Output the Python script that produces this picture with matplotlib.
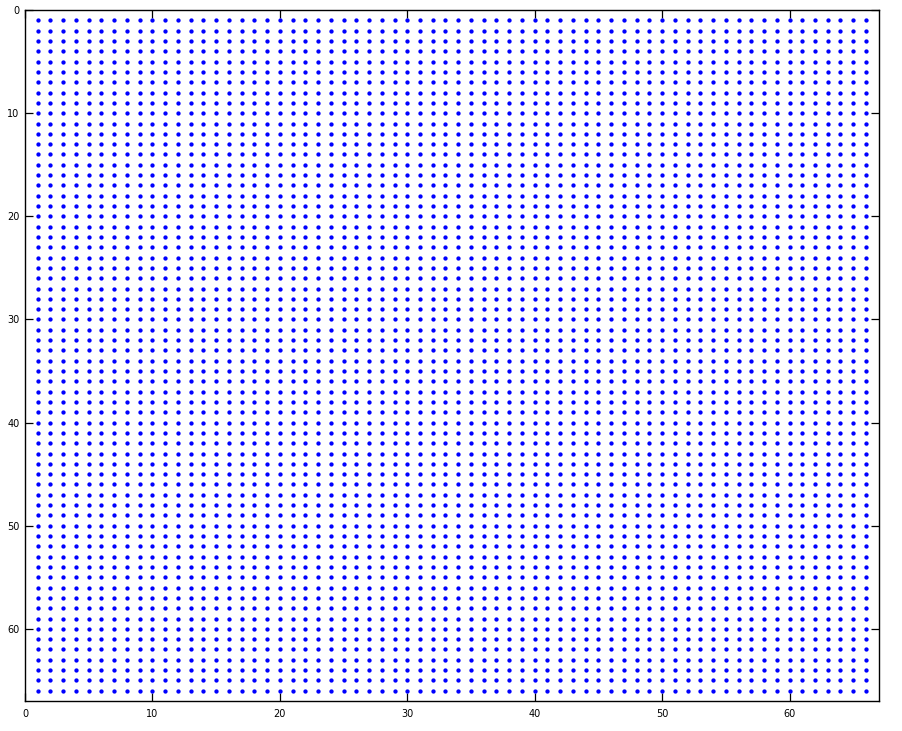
import numpy as np
import matplotlib
matplotlib.use('Agg')
import matplotlib.pyplot as plt

# grid of sample points (column and row indices)
cols = np.arange(1, 67)
rows = np.arange(1, 67)
x_ticks = [0, 10, 20, 30, 40, 50, 60]
y_ticks = [0, 10, 20, 30, 40, 50, 60]

X, Y = np.meshgrid(cols, rows)

fig = plt.figure(figsize=(9.03, 7.31), dpi=100)
ax = fig.add_axes([25 / 903, 30 / 731, 853.7 / 903, 690.9 / 731])

ax.plot(X.ravel(), Y.ravel(), linestyle='none', marker='o',
        markersize=3.1, markeredgewidth=0, color='#0000ff')

ax.set_xlim(0, 67)
ax.set_ylim(67, 0)
ax.set_xticks(x_ticks)
ax.set_yticks(y_ticks)
ax.tick_params(direction='in', length=5.5, width=0.9, labelsize=7,
               top=True, right=True, color='black')
ax.tick_params(axis='x', pad=6)
ax.tick_params(axis='y', pad=4)
for s in ax.spines.values():
    s.set_linewidth(1.0)

fig.savefig('out.png', dpi=100)
